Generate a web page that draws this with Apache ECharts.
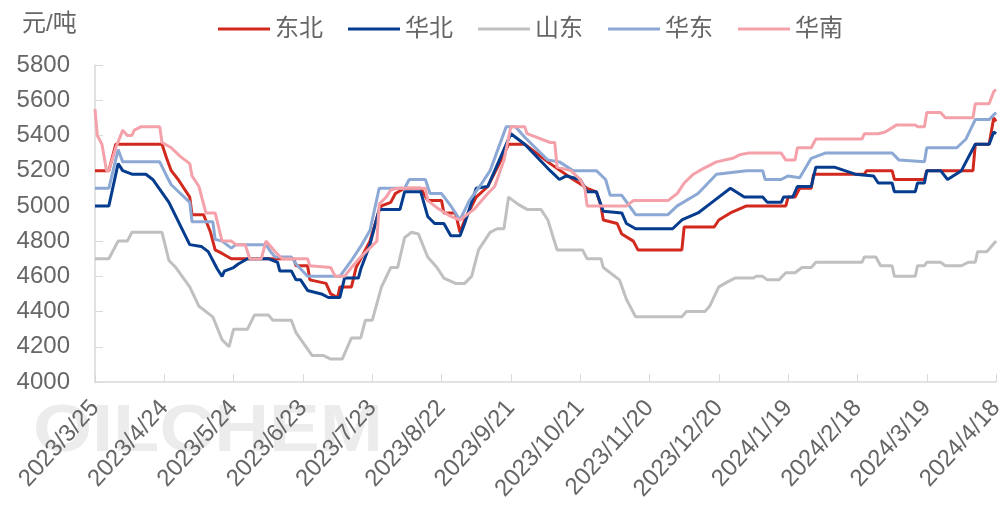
<!DOCTYPE html>
<html>
<head>
<meta charset="utf-8">
<script src="https://cdn.jsdelivr.net/npm/echarts@6/dist/echarts.min.js"></script>
<style>
  html, body { margin: 0; padding: 0; background: #fff; }
  #main { width: 1007px; height: 509px; }
</style>
</head>
<body>
<div id="main"></div>
<script>
// x 轴刻度标签，每 30 天一个
const xLabels = ['2023/3/25', '2023/4/24', '2023/5/24', '2023/6/23', '2023/7/23', '2023/8/22', '2023/9/21',
  '2023/10/21', '2023/11/20', '2023/12/20', '2024/1/19', '2024/2/18', '2024/3/19', '2024/4/18'];

// 各地区价格：[距 2023/3/25 的天数, 元/吨]
const dongbei = [[0,5200],[6,5200],[9,5350],[29,5350],[31,5270],[33,5200],[36,5150],[41,5050],[42,4950],[47,4950],
  [50,4850],[52,4750],[55,4730],[59,4700],[86,4700],[87,4660],[92,4660],[93,4580],[100,4560],[102,4500],[105,4480],
  [106,4540],[111,4540],[113,4650],[119,4800],[123,4975],[124,5000],[128,5020],[130,5070],[134,5100],[141,5100],
  [144,5030],[150,5030],[151,4960],[156,4960],[158,4850],[160,4920],[165,5050],[170,5110],[175,5240],[179,5350],
  [186,5350],[197,5240],[207,5150],[213,5100],[217,5080],[219,5000],[220,4920],[226,4900],[228,4840],[233,4800],
  [235,4750],[254,4750],[255,4880],[268,4880],[270,4920],[275,4960],[282,5000],[299,5000],[300,5050],[303,5050],
  [305,5100],[310,5100],[311,5180],[333,5180],[334,5200],[345,5200],[346,5150],[359,5150],[360,5200],[380,5200],
  [381,5350],[387,5350],[389,5500],[390,5480]];

const huabei = [[0,5000],[6,5000],[10,5240],[12,5200],[16,5180],[22,5180],[25,5150],[32,5020],[41,4780],[46,4770],
  [49,4740],[53,4640],[55,4600],[56,4630],[60,4650],[62,4670],[66,4700],[75,4700],[79,4680],[80,4630],[85,4630],
  [87,4580],[89,4580],[92,4520],[98,4500],[101,4480],[106,4480],[108,4590],[114,4590],[115,4640],[119,4780],
  [123,4980],[132,4980],[134,5080],[141,5080],[144,4940],[147,4900],[151,4900],[154,4830],[158,4830],[160,4900],
  [165,5100],[170,5110],[175,5260],[180,5410],[186,5350],[197,5200],[201,5150],[204,5170],[210,5150],[213,5080],
  [217,5080],[220,4970],[228,4960],[230,4900],[234,4870],[250,4870],[254,4920],[261,4960],[268,5030],[275,5100],
  [281,5050],[289,5050],[291,5020],[297,5020],[298,5050],[302,5050],[304,5110],[310,5110],[312,5220],[320,5220],
  [329,5180],[337,5170],[339,5130],[345,5130],[346,5080],[355,5080],[356,5130],[359,5130],[360,5200],[366,5200],
  [369,5150],[375,5200],[379,5300],[381,5350],[387,5350],[389,5420],[390,5410]];

const shandong = [[0,4700],[6,4700],[10,4800],[14,4800],[16,4850],[29,4850],[32,4690],[35,4650],[41,4540],[45,4430],
  [51,4370],[55,4240],[58,4200],[60,4300],[66,4300],[69,4380],[75,4380],[77,4350],[85,4350],[87,4280],[94,4150],
  [99,4150],[102,4130],[107,4130],[111,4250],[115,4250],[117,4350],[120,4350],[124,4540],[128,4650],[131,4650],
  [134,4820],[137,4850],[140,4840],[144,4710],[148,4650],[151,4590],[156,4560],[160,4560],[163,4600],[166,4750],
  [171,4850],[174,4870],[177,4870],[179,5050],[183,5010],[187,4980],[193,4980],[196,4920],[200,4750],[211,4750],
  [213,4700],[219,4700],[220,4650],[227,4580],[230,4470],[234,4370],[254,4370],[256,4400],[264,4400],[266,4430],
  [270,4540],[274,4570],[277,4590],[285,4590],[286,4600],[289,4600],[291,4580],[296,4580],[299,4620],[303,4620],
  [306,4650],[310,4650],[312,4680],[332,4680],[333,4710],[338,4710],[340,4660],[345,4660],[346,4600],[355,4600],
  [356,4660],[359,4660],[360,4680],[366,4680],[368,4660],[375,4660],[378,4680],[381,4680],[382,4740],[386,4740],
  [390,4800]];

const huadong = [[0,5100],[6,5100],[10,5320],[12,5250],[28,5250],[31,5170],[33,5120],[41,5020],[42,4910],[51,4910],
  [52,4810],[55,4800],[59,4760],[61,4780],[74,4780],[76,4740],[78,4710],[85,4710],[87,4670],[92,4600],[106,4600],
  [111,4690],[115,4770],[119,4860],[123,5100],[134,5100],[136,5150],[143,5150],[145,5070],[150,5070],[154,5000],
  [158,4920],[162,5030],[167,5120],[171,5200],[178,5450],[182,5450],[186,5390],[196,5260],[201,5250],[207,5200],
  [217,5200],[221,5150],[223,5060],[228,5060],[234,4950],[248,4950],[252,5000],[261,5070],[269,5180],[282,5200],
  [289,5200],[290,5150],[297,5150],[300,5170],[305,5160],[310,5270],[314,5290],[316,5300],[345,5300],[348,5260],
  [359,5250],[360,5330],[373,5330],[377,5380],[381,5490],[387,5490],[390,5530]];

const huanan = [[0,5550],[1,5400],[3,5350],[5,5200],[6,5200],[9,5330],[12,5430],[14,5400],[16,5400],[17,5430],
  [20,5450],[28,5450],[29,5360],[33,5330],[37,5280],[41,5240],[42,5170],[45,5110],[48,4960],[52,4960],[55,4800],
  [59,4800],[61,4780],[65,4780],[67,4700],[72,4700],[74,4800],[78,4740],[81,4700],[92,4700],[93,4660],[102,4650],
  [104,4600],[108,4600],[111,4650],[115,4710],[122,4800],[123,5010],[126,5050],[128,5090],[131,5100],[143,5100],
  [144,5030],[148,4990],[154,4940],[158,4920],[164,4980],[170,5070],[173,5110],[177,5260],[180,5450],[186,5450],
  [187,5410],[197,5360],[199,5360],[200,5220],[206,5200],[210,5150],[212,5100],[213,5000],[230,5000],[233,5030],
  [248,5030],[252,5070],[255,5130],[259,5180],[263,5210],[269,5250],[276,5270],[279,5290],[283,5300],[297,5300],
  [299,5260],[303,5260],[304,5330],[310,5330],[312,5380],[332,5380],[333,5410],[339,5410],[342,5420],[347,5460],
  [355,5460],[356,5450],[359,5450],[360,5530],[366,5530],[368,5500],[380,5500],[381,5580],[387,5580],[389,5650],
  [390,5660]];

const seriesNames = ['东北', '华北', '山东', '华东', '华南'];
const seriesData = [dongbei, huabei, shandong, huadong, huanan];
const colors = ['#d2291f', '#053c8e', '#c0c0c0', '#8ca8d5', '#f4a1aa'];

const font = "'Liberation Sans', 'Noto Sans CJK SC', sans-serif";
const textColor = '#666';

const chart = echarts.init(document.getElementById('main'));

chart.setOption({
  animation: false,
  color: colors,
  textStyle: { fontFamily: font },
  graphic: [
    {
      type: 'text', left: 33, top: 400, z: -10, scaleX: 1.15,
      style: { text: 'OILCHEM', fontSize: 66, fontWeight: 'bold', fontFamily: font, fill: '#ececec' }
    },
    {
      type: 'text', left: 22, top: 12,
      style: { text: '元/吨', fontSize: 24, fontFamily: font, fill: textColor }
    }
  ],
  legend: {
    data: seriesNames,
    left: 213,
    top: 12,
    icon: 'rect',
    itemWidth: 52,
    itemHeight: 3,
    itemGap: 25,
    textStyle: { fontSize: 24, color: textColor, fontFamily: font }
  },
  grid: { left: 95, right: 5, top: 65, bottom: 127 },
  xAxis: {
    type: 'value',
    min: 0,
    max: 390,
    interval: 30,
    axisLine: { lineStyle: { color: '#d9d9d9', width: 1.5 } },
    axisTick: { inside: true, length: 8, lineStyle: { color: '#d9d9d9' } },
    splitLine: { show: false },
    axisLabel: {
      rotate: 48,
      margin: 22,
      fontSize: 24,
      color: textColor,
      fontFamily: font,
      formatter: v => xLabels[v / 30] || ''
    }
  },
  yAxis: {
    type: 'value',
    min: 4000,
    max: 5800,
    interval: 200,
    axisLine: { show: true, lineStyle: { color: '#d9d9d9', width: 1.5 } },
    axisTick: { show: true, inside: true, length: 8, lineStyle: { color: '#d9d9d9' } },
    splitLine: { show: false },
    axisLabel: { fontSize: 24, color: textColor, margin: 25, fontFamily: font, formatter: v => String(v) }
  },
  series: seriesNames.map((name, i) => ({
    name: name,
    type: 'line',
    data: seriesData[i],
    symbol: 'none',
    lineStyle: { width: 3 }
  }))
});
</script>
</body>
</html>
